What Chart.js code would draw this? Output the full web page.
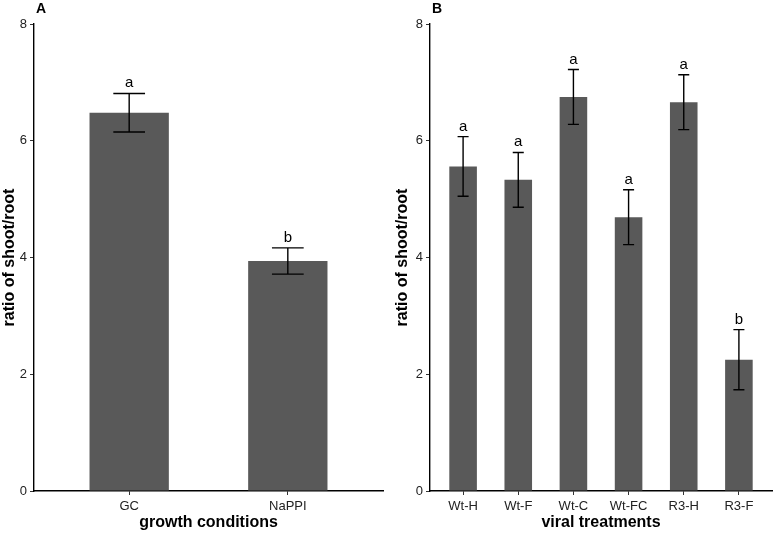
<!DOCTYPE html>
<html>
<head>
<meta charset="utf-8">
<script src="https://cdn.jsdelivr.net/npm/chart.js@4"></script>
<style>
  body { margin: 0; background: #fff; width: 779px; height: 533px; position: relative; overflow: hidden; }
  canvas { position: absolute; top: 0; }
  #chartA { left: 0; }
  #chartB { left: 386px; }
</style>
</head>
<body>
<canvas id="chartA" width="390" height="533"></canvas>
<canvas id="chartB" width="393" height="533"></canvas>
<script>
// panel A data
const labelsA = ['GC', 'NaPPI'];
const valuesA = [6.48, 3.94];
const errA = [0.33, 0.225];
const lettersA = ['a', 'b'];

// panel B data
const labelsB = ['Wt-H', 'Wt-F', 'Wt-C', 'Wt-FC', 'R3-H', 'R3-F'];
const valuesB = [5.56, 5.33, 6.75, 4.69, 6.66, 2.25];
const errB = [0.51, 0.47, 0.47, 0.47, 0.47, 0.515];
const lettersB = ['a', 'a', 'a', 'a', 'a', 'b'];

const yTicks = [0, 2, 4, 6, 8];

const FONT = '"Liberation Sans", Arial, sans-serif';
const BAR = '#595959';

// error bars, significance letters and panel tag
const errorBarPlugin = {
  id: 'errorBars',
  afterDatasetsDraw(chart, args, opts) {
    const ctx = chart.ctx;
    const x = chart.scales.x;
    const y = chart.scales.y;
    ctx.save();
    ctx.strokeStyle = '#000';
    ctx.lineWidth = 1.4;
    opts.values.forEach((v, i) => {
      const pos = i + 1;
      const top = y.getPixelForValue(v + opts.err[i]);
      const bot = y.getPixelForValue(v - opts.err[i]);
      const xc = x.getPixelForValue(pos);
      const xl = x.getPixelForValue(pos - 0.1);
      const xr = x.getPixelForValue(pos + 0.1);
      ctx.beginPath();
      ctx.moveTo(xc, top); ctx.lineTo(xc, bot);
      ctx.moveTo(xl, top); ctx.lineTo(xr, top);
      ctx.moveTo(xl, bot); ctx.lineTo(xr, bot);
      ctx.stroke();
      ctx.fillStyle = '#000';
      ctx.font = '15px ' + FONT;
      ctx.textAlign = 'center';
      ctx.textBaseline = 'alphabetic';
      ctx.fillText(opts.letters[i], xc, top - 6);
    });
    ctx.font = 'bold 14px ' + FONT;
    ctx.textAlign = 'left';
    ctx.textBaseline = 'top';
    ctx.fillStyle = '#000';
    ctx.fillText(opts.tag, opts.tagX, 2);
    ctx.restore();
  }
};

function makePanel(id, labels, values, err, letters, xTitle, tag, tagX, yWidth, yTitlePad) {
  const n = labels.length;
  new Chart(document.getElementById(id), {
    type: 'bar',
    data: {
      datasets: [{
        data: values.map((v, i) => ({ x: i + 1, y: v })),
        backgroundColor: BAR,
        borderWidth: 0,
        barPercentage: 0.5,
        categoryPercentage: 1
      }]
    },
    options: {
      responsive: false,
      animation: false,
      layout: { padding: { top: 24, right: 7, left: 0, bottom: 0 } },
      plugins: {
        legend: { display: false },
        tooltip: { enabled: false },
        errorBars: { values: values, err: err, letters: letters, tag: tag, tagX: tagX }
      },
      scales: {
        x: {
          type: 'linear',
          offset: false,
          min: 0.4,
          max: n + 0.6,
          afterBuildTicks: s => { s.ticks = labels.map((_, i) => ({ value: i + 1 })); },
          afterFit: s => { s.height = 42; },
          ticks: {
            callback: v => labels[v - 1],
            color: '#222',
            font: { family: FONT, size: 13 },
            padding: 4,
            autoSkip: false,
            maxRotation: 0
          },
          grid: { offset: false, drawOnChartArea: false, drawTicks: true, tickLength: 4, color: '#333' },
          border: { display: true, color: '#000', width: 1.4 },
          title: {
            display: true,
            text: xTitle,
            color: '#000',
            font: { family: FONT, size: 16, weight: 'bold' },
            padding: { top: 0, bottom: 1 }
          }
        },
        y: {
          min: 0,
          max: 8,
          afterBuildTicks: s => { s.ticks = yTicks.map(v => ({ value: v })); },
          afterFit: s => { s.width = yWidth; },
          ticks: {
            color: '#222',
            font: { family: FONT, size: 13 },
            padding: 3
          },
          grid: { drawOnChartArea: false, drawTicks: true, tickLength: 4, color: '#333' },
          border: { display: true, color: '#000', width: 1.4 },
          title: {
            display: true,
            text: 'ratio of shoot/root',
            color: '#000',
            font: { family: FONT, size: 16, weight: 'bold' },
            padding: { top: yTitlePad, bottom: 0 }
          }
        }
      }
    },
    plugins: [errorBarPlugin]
  });
}

makePanel('chartA', labelsA, valuesA, errA, lettersA, 'growth conditions', 'A', 36, 34, 0);
makePanel('chartB', labelsB, valuesB, errB, lettersB, 'viral treatments', 'B', 46, 44, 7);
</script>
</body>
</html>
